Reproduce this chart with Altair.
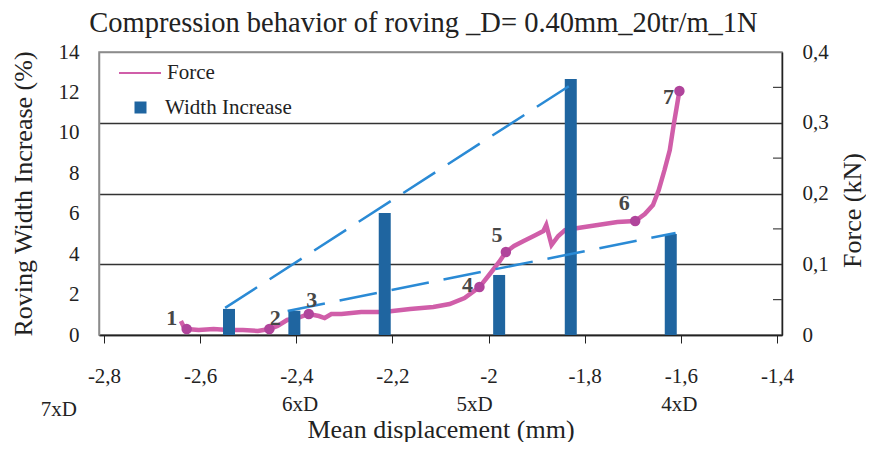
import altair as alt
import pandas as pd

# ---- data ----
bar_x = [-2.540, -2.404, -2.216, -1.978, -1.829, -1.621]
bar_w = [1.29, 1.20, 6.04, 2.97, 12.66, 5.00]

force_x = [-2.640, -2.634, -2.628, -2.603, -2.572, -2.542, -2.511, -2.480, -2.456,
           -2.439, -2.419, -2.398, -2.374, -2.353, -2.341, -2.327, -2.306, -2.265,
           -2.218, -2.163, -2.115, -2.081, -2.050, -2.019, -1.999, -1.978, -1.964,
           -1.947, -1.927, -1.906, -1.886, -1.880, -1.869, -1.855, -1.841, -1.814,
           -1.773, -1.732, -1.695, -1.675, -1.658, -1.646, -1.634, -1.623, -1.615,
           -1.609, -1.603]
force_f = [0.0198, 0.0113, 0.0085, 0.0071, 0.0085, 0.0071, 0.0071, 0.0057, 0.0085,
           0.0127, 0.0212, 0.0240, 0.0297, 0.0268, 0.0240, 0.0297, 0.0297, 0.0325,
           0.0325, 0.0367, 0.0396, 0.0438, 0.0523, 0.0678, 0.0848, 0.1032, 0.1173,
           0.1258, 0.1328, 0.1399, 0.1470, 0.1555, 0.1272, 0.1399, 0.1484, 0.1512,
           0.1555, 0.1597, 0.1611, 0.1710, 0.1837, 0.2049, 0.2332, 0.2615, 0.2968,
           0.3208, 0.3449]

pts_x = [-2.628, -2.456, -2.374, -2.019, -1.964, -1.695, -1.603]
pts_f = [0.0085, 0.0085, 0.0297, 0.0678, 0.1173, 0.1611, 0.3449]
pts_lab = ["1", "2", "3", "4", "5", "6", "7"]

trendA_x = [-2.548, -1.829]
trendA_y = [1.34, 12.37]
trendB_x = [-2.418, -1.611]
trendB_y = [1.19, 5.05]

xd_text = ["7xD", "6xD", "5xD", "4xD"]
xd_x = [-2.894, -2.392, -2.029, -1.603]

x_ticks = [-2.8, -2.6, -2.4, -2.2, -2.0, -1.8, -1.6, -1.4]
left_ticks = [0, 2, 4, 6, 8, 10, 12, 14]
right_ticks = [0, 0.1, 0.2, 0.3, 0.4]
minor_ticks = [0.05, 0.15, 0.25, 0.35]

# ---- styles ----
FONT = "Liberation Serif"
W, H = 683, 283
BAR_C = "#1f65a0"
TREND_C = "#2a8ad5"
CURVE_C = "#d05ea9"
MARK_C = "#b0449b"
LAB_C = "#474747"

bars_df = pd.DataFrame({"x": bar_x, "w": bar_w, "s": "Width Increase"})
force_df = pd.DataFrame({"x": force_x, "f": force_f, "s": "Force"})
pts_df = pd.DataFrame({"x": pts_x, "f": pts_f, "lab": pts_lab})
trendA_df = pd.DataFrame({"x": trendA_x, "y": trendA_y})
trendB_df = pd.DataFrame({"x": trendB_x, "y": trendB_y})
xd_df = pd.DataFrame({"x": xd_x, "t": xd_text})
minor_df = pd.DataFrame({"v": minor_ticks})

xs = alt.Scale(domain=[-2.8, -1.4], nice=False, zero=False)
yl = alt.Scale(domain=[0, 14], nice=False)
yr = alt.Scale(domain=[0, 0.4], nice=False)

xaxis = alt.Axis(values=x_ticks, labelExpr="replace(toString(datum.value), '.', ',')",
                 title="Mean displacement (mm)", tickSize=8, tickColor="#222",
                 domainColor="#222", domainWidth=1.5, labelPadding=22, titlePadding=30,
                 grid=False)
X = alt.X("x:Q", scale=xs, axis=xaxis)

curve = alt.Chart(force_df).mark_line(strokeWidth=4.5, color=CURVE_C).encode(
    x=X,
    y=alt.Y("f:Q", scale=yr, axis=alt.Axis(
        orient="right", values=right_ticks, title="Force (kN)", titleAngle=270,
        titleBaseline="top", titleY=158,
        labelExpr="replace(toString(datum.value), '.', ',')", ticks=False,
        labelPadding=20, titlePadding=11, domainColor="#222", domainWidth=1.5,
        grid=True, gridWidth=1.5,
        gridColor={"condition": {"test": "datum.value >= 0.39", "value": "#8c8c8c"},
                   "value": "#333333"})),
    color=alt.Color("s:N", scale=alt.Scale(domain=["Force"], range=[CURVE_C]),
                    legend=alt.Legend(orient="none", legendX=19, legendY=-1, title=None,
                                      symbolType="stroke", symbolSize=1764,
                                      symbolStrokeWidth=2, labelOffset=5, padding=0)),
)

bars = alt.Chart(bars_df).mark_bar(size=12, color=BAR_C).encode(
    x=X,
    y=alt.Y("w:Q", scale=yl, axis=alt.Axis(
        orient="left", values=left_ticks, title="Roving Width Increase (%)",
        ticks=False, labelPadding=20, titlePadding=22, domainColor="#8c8c8c",
        domainWidth=1.5, grid=False)),
    color=alt.Color("s:N", scale=alt.Scale(domain=["Width Increase"], range=[BAR_C]),
                    legend=alt.Legend(orient="none", legendX=31, legendY=45, title=None,
                                      symbolType="square", symbolSize=144,
                                      labelOffset=14, padding=0)),
)

trendA = alt.Chart(trendA_df).mark_line(strokeWidth=2.5, color=TREND_C,
                                        strokeDash=[38, 15]).encode(
    x=X, y=alt.Y("y:Q", scale=yl, axis=None))
trendB = alt.Chart(trendB_df).mark_line(strokeWidth=2.5, color=TREND_C,
                                        strokeDash=[38, 15]).encode(
    x=X, y=alt.Y("y:Q", scale=yl, axis=None))

markers = alt.Chart(pts_df).mark_circle(size=110, color=MARK_C, opacity=1).encode(
    x=X, y=alt.Y("f:Q", scale=yr, axis=None))

offsets = {"1": (-15, -11), "2": (6, -11), "3": (3, -14), "4": (-12, -2),
           "5": (-9, -17), "6": (-11, -18), "7": (-11, 6)}
labels = []
for lab, (dx, dy) in offsets.items():
    labels.append(
        alt.Chart(pts_df).transform_filter(alt.datum.lab == lab)
        .mark_text(font=FONT, fontSize=22, fontWeight="bold", color=LAB_C,
                   dx=dx, dy=dy, align="center", baseline="middle")
        .encode(x=X, y=alt.Y("f:Q", scale=yr, axis=None), text="lab:N"))

minor = alt.Chart(minor_df).mark_rule(color="#444", strokeWidth=1.2).encode(
    y=alt.Y("v:Q", scale=yr, axis=None), x=alt.value(W - 9), x2=alt.value(W))

xd_main = alt.Chart(xd_df).transform_filter(alt.datum.t != "7xD").mark_text(
    font=FONT, fontSize=21, color="#222", baseline="middle", clip=False).encode(
    x=X, y=alt.value(H + 70), text="t:N")
xd_first = alt.Chart(xd_df).transform_filter(alt.datum.t == "7xD").mark_text(
    font=FONT, fontSize=21, color="#222", baseline="middle", clip=False).encode(
    x=X, y=alt.value(H + 75), text="t:N")

chart = alt.layer(curve, bars, trendA, trendB, markers, *labels, minor, xd_main, xd_first
).resolve_scale(y="independent", color="independent").properties(
    width=W, height=H,
    title=alt.TitleParams("Compression behavior of roving _D= 0.40mm_20tr/m_1N",
                          font=FONT, fontSize=28.5, fontWeight="normal", color="#222",
                          anchor="middle", dx=-17, offset=4),
    autosize=alt.AutoSizeParams(type="none"),
    padding={"left": 91, "top": 44, "right": 84, "bottom": 107},
).configure_view(stroke="#8c8c8c", strokeWidth=1.5).configure_axis(
    labelFont=FONT, labelFontSize=21, labelColor="#222",
    titleFont=FONT, titleFontSize=26, titleFontWeight="normal", titleColor="#222",
).configure_legend(labelFont=FONT, labelFontSize=21, labelColor="#222")

chart.save("out.html", embed_options={"renderer": "svg", "actions": False})
